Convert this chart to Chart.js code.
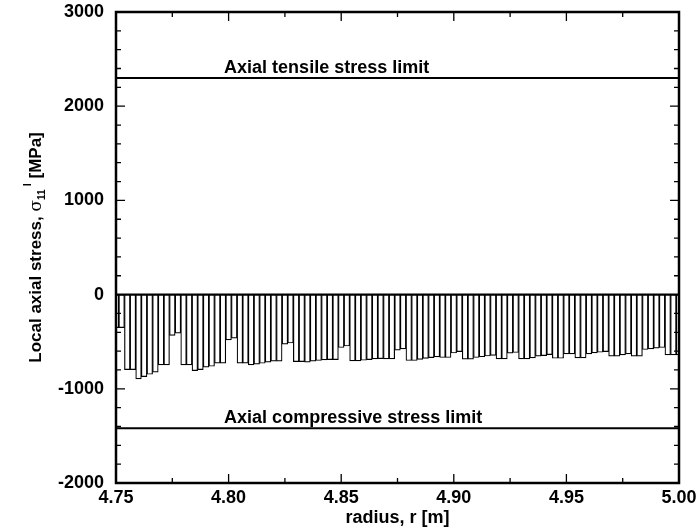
<!DOCTYPE html>
<html>
<head>
<meta charset="utf-8">
<script src="https://cdn.jsdelivr.net/npm/chart.js@4/dist/chart.umd.min.js"></script>
<style>
html,body{margin:0;padding:0;background:#fff;}
</style>
</head>
<body>
<canvas id="stress_chart" width="699" height="532"></canvas>
<script>
// radius of each bar centre [m]
const radius = [
  4.7500,4.7525,4.7550,4.7575,4.7600,4.7625,4.7650,4.7675,4.7700,4.7725,
  4.7750,4.7775,4.7800,4.7825,4.7850,4.7875,4.7900,4.7925,4.7950,4.7975,
  4.8000,4.8025,4.8050,4.8075,4.8100,4.8125,4.8150,4.8175,4.8200,4.8225,
  4.8250,4.8275,4.8300,4.8325,4.8350,4.8375,4.8400,4.8425,4.8450,4.8475,
  4.8500,4.8525,4.8550,4.8575,4.8600,4.8625,4.8650,4.8675,4.8700,4.8725,
  4.8750,4.8775,4.8800,4.8825,4.8850,4.8875,4.8900,4.8925,4.8950,4.8975,
  4.9000,4.9025,4.9050,4.9075,4.9100,4.9125,4.9150,4.9175,4.9200,4.9225,
  4.9250,4.9275,4.9300,4.9325,4.9350,4.9375,4.9400,4.9425,4.9450,4.9475,
  4.9500,4.9525,4.9550,4.9575,4.9600,4.9625,4.9650,4.9675,4.9700,4.9725,
  4.9750,4.9775,4.9800,4.9825,4.9850,4.9875,4.9900,4.9925,4.9950,4.9975,
  5.0000
];
// local axial stress [MPa]
const localStress = [
  -350,-350,-796,-796,-895,-870,-846,-824,-746,-746,
  -434,-410,-746,-746,-807,-796,-771,-761,-727,-727,
  -481,-463,-727,-727,-746,-739,-729,-718,-707,-707,
  -526,-514,-711,-711,-718,-707,-700,-693,-690,-690,
  -562,-546,-703,-703,-697,-690,-683,-680,-683,-683,
  -590,-576,-700,-700,-688,-678,-670,-662,-668,-668,
  -620,-605,-686,-686,-668,-660,-652,-645,-683,-683,
  -622,-615,-683,-683,-672,-654,-647,-637,-676,-676,
  -629,-629,-672,-672,-629,-619,-612,-605,-654,-654,
  -640,-629,-654,-654,-583,-576,-569,-562,-640,-640,
  -640
];
const tensileLimit = 2300;
const compressiveLimit = -1420;
const limitLabels = ['Axial tensile stress limit', 'Axial compressive stress limit'];
const labelStart = 4.798;

const FONT = '"Liberation Sans", Arial, Helvetica, sans-serif';
Chart.defaults.font.family = FONT;
Chart.defaults.font.weight = 'bold';
Chart.defaults.font.size = 18;
Chart.defaults.color = '#000';

// frame with inward ticks, limit labels, y title with sub/superscript
const frameTicks = {
  id: 'frameTicks',
  afterDatasetsDraw(chart) {
    const {ctx, chartArea: a, scales: {x, y}} = chart;
    ctx.save();
    ctx.fillStyle = '#000';
    ctx.strokeStyle = '#000';
    ctx.font = 'bold 18px ' + FONT;
    ctx.textAlign = 'left';
    ctx.textBaseline = 'alphabetic';
    ctx.fillText(limitLabels[0], x.getPixelForValue(labelStart), y.getPixelForValue(tensileLimit) - 5);
    ctx.fillText(limitLabels[1], x.getPixelForValue(labelStart), y.getPixelForValue(compressiveLimit) - 5);

    ctx.lineWidth = 1.3;
    ctx.beginPath();
    for (let v = -2000; v <= 3000; v += 200) {
      const len = v % 1000 === 0 ? 9 : 5;
      const py = y.getPixelForValue(v);
      ctx.moveTo(a.left, py); ctx.lineTo(a.left + len, py);
      ctx.moveTo(a.right, py); ctx.lineTo(a.right - len, py);
    }
    for (let i = 0; i <= 10; i++) {
      const len = i % 2 === 0 ? 9 : 5;
      const px = x.getPixelForValue(4.75 + i * 0.025);
      ctx.moveTo(px, a.bottom); ctx.lineTo(px, a.bottom - len);
      ctx.moveTo(px, a.top); ctx.lineTo(px, a.top + len);
    }
    ctx.stroke();

    ctx.lineWidth = 2.5;
    ctx.strokeRect(a.left, a.top, a.right - a.left, a.bottom - a.top);

    // y axis title
    const parts = [
      {t: 'Local axial stress, ', f: 'bold 17px ' + FONT, dy: 0},
      {t: 'σ', f: '17px "DejaVu Serif", serif', dy: 0},
      {t: '11', f: 'bold 10px ' + FONT, dy: 4},
      {t: ' l', f: 'bold 11px ' + FONT, dy: -10},
      {t: ' [MPa]', f: 'bold 17px ' + FONT, dy: 0}
    ];
    let total = 0;
    parts.forEach(p => { ctx.font = p.f; p.w = ctx.measureText(p.t).width; total += p.w; });
    ctx.translate(35, (a.top + a.bottom) / 2);
    ctx.rotate(-Math.PI / 2);
    let cx = -total / 2;
    parts.forEach(p => { ctx.font = p.f; ctx.fillText(p.t, cx, 6 + p.dy); cx += p.w; });
    ctx.restore();
  }
};

const lineSet = (val, w) => ({
  type: 'line',
  data: [{x: radius[0], y: val}, {x: radius[radius.length - 1], y: val}],
  borderColor: '#000', borderWidth: w, pointRadius: 0
});

let ctx = document.getElementById('stress_chart');
let stressChart = new Chart(ctx, {
  type: 'bar',
  data: {
    datasets: [
      lineSet(tensileLimit, 2),
      lineSet(compressiveLimit, 2),
      lineSet(0, 2),
      {
        type: 'bar',
        data: radius.map((r, i) => ({x: r, y: localStress[i]})),
        backgroundColor: '#fff',
        borderColor: '#000',
        borderWidth: 1.2,
        borderSkipped: false,
        barPercentage: 1,
        categoryPercentage: 1,
        clip: 0
      }
    ]
  },
  options: {
    responsive: false,
    animation: false,
    layout: {padding: {top: 12, right: 20, left: 0, bottom: 0}},
    plugins: {legend: {display: false}, tooltip: {enabled: false}},
    scales: {
      x: {
        type: 'linear', min: 4.75, max: 5.0, offset: false,
        grid: {display: false, drawTicks: false},
        border: {display: false},
        ticks: {stepSize: 0.05, padding: 4, maxRotation: 0, autoSkip: false, callback: v => v.toFixed(2)},
        title: {display: true, text: 'radius, r [m]', padding: {top: 0, bottom: 3}},
        afterFit(s) { s.height = 49; s.paddingLeft = 0; s.paddingRight = 0; }
      },
      y: {
        min: -2000, max: 3000,
        grid: {display: false, drawTicks: false},
        border: {display: false},
        ticks: {stepSize: 1000, padding: 12, callback: v => String(v)},
        afterFit(s) { s.width = 116; s.paddingTop = 0; s.paddingBottom = 0; }
      }
    }
  },
  plugins: [frameTicks]
});
</script>
</body>
</html>
